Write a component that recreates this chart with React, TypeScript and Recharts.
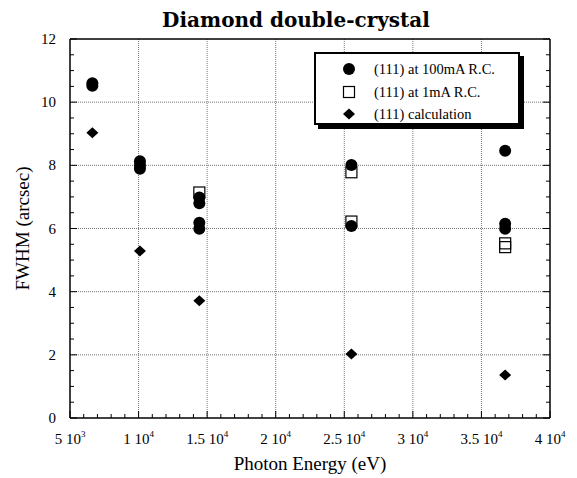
import React from 'react';
import { ScatterChart, Scatter, XAxis, YAxis, ReferenceLine, Legend } from 'recharts';

// ---- data (photon energy in eV, FWHM in arcsec) ----
const circleEnergy = [6630, 6630, 10100, 10100, 10100, 14430, 14430, 14430, 14430, 25520, 25520, 36730, 36730, 36730];
const circleFwhm = [10.6, 10.52, 8.13, 8.0, 7.89, 6.98, 6.8, 6.18, 5.99, 8.01, 6.08, 8.46, 6.15, 5.99];

const squareEnergy = [14430, 25520, 25520, 36730, 36730];
const squareFwhm = [7.14, 7.78, 6.22, 5.53, 5.41];

const diamondEnergy = [6630, 10100, 14430, 25520, 36730];
const diamondFwhm = [9.03, 5.29, 3.71, 2.03, 1.36];

const seriesNames = ['(111) at 100mA R.C.', '(111) at 1mA R.C.', '(111) calculation'];

// ---- axes ----
const xDomain = [5000, 40000];
const yDomain = [0, 12];
const xMajorTicks = [5000, 10000, 15000, 20000, 25000, 30000, 35000, 40000];
const yMajorTicks = [0, 2, 4, 6, 8, 10, 12];
const xMinorStep = 1000;
const yMinorStep = 0.5;

const xAllTicks: number[] = [];
for (let v = xDomain[0]; v <= xDomain[1]; v += xMinorStep) xAllTicks.push(v);
const yAllTicks: number[] = [];
for (let v = yDomain[0]; v <= yDomain[1] + 1e-9; v += yMinorStep) yAllTicks.push(Math.round(v * 10) / 10);

const xGrid = xMajorTicks.slice(1, -1);
const yGrid = yMajorTicks.slice(1, -1);

const circleData = circleEnergy.map((x, i) => ({ x, y: circleFwhm[i] }));
const squareData = squareEnergy.map((x, i) => ({ x, y: squareFwhm[i] }));
const diamondData = diamondEnergy.map((x, i) => ({ x, y: diamondFwhm[i] }));

const SERIF = '"Liberation Serif", "Times New Roman", serif';
const TITLE_FONT = '"DejaVu Serif", serif';

const isXMajor = (v: number) => xMajorTicks.includes(v);
const isYMajor = (v: number) => yMajorTicks.includes(v);

// ---- shapes ----
const CircleShape = (p: any) => <circle cx={p.cx} cy={p.cy} r={6} fill="#000" />;
const SquareShape = (p: any) => (
  <rect x={p.cx - 5.5} y={p.cy - 5.5} width={11} height={11} fill="none" stroke="#000" strokeWidth={1.2} />
);
const DiamondShape = (p: any) => (
  <polygon
    points={`${p.cx},${p.cy - 5.5} ${p.cx + 6},${p.cy} ${p.cx},${p.cy + 5.5} ${p.cx - 6},${p.cy}`}
    fill="#000"
  />
);

// ---- ticks ----
const BottomTick = (props: any) => {
  const { x, y, payload } = props;
  const v = payload.value;
  const major = isXMajor(v);
  const len = major ? 7 : 4;
  const exp = Math.floor(Math.log10(v) + 1e-9);
  const mant = Math.round((v / Math.pow(10, exp)) * 100) / 100;
  return (
    <g>
      <line x1={x} x2={x} y1={y} y2={y - len} stroke="#000" strokeWidth={1} />
      {major && (
        <text x={x} y={y + 26} textAnchor="middle" fontFamily={SERIF} fontSize={15} fill="#000">
          {`${mant} 10`}
          <tspan dy={-7} fontSize={9}>{exp}</tspan>
        </text>
      )}
    </g>
  );
};

const TopTick = (props: any) => {
  const { x, y, payload } = props;
  const len = isXMajor(payload.value) ? 7 : 4;
  return <line x1={x} x2={x} y1={y} y2={y + len} stroke="#000" strokeWidth={1} />;
};

const LeftTick = (props: any) => {
  const { x, y, payload } = props;
  const v = payload.value;
  const major = isYMajor(v);
  const len = major ? 7 : 4;
  return (
    <g>
      <line x1={x} x2={x + len} y1={y} y2={y} stroke="#000" strokeWidth={1} />
      {major && (
        <text x={x - 14} y={y + 5} textAnchor="end" fontFamily={SERIF} fontSize={15} fill="#000">
          {v}
        </text>
      )}
    </g>
  );
};

const RightTick = (props: any) => {
  const { x, y, payload } = props;
  const len = isYMajor(payload.value) ? 7 : 4;
  return <line x1={x} x2={x - len} y1={y} y2={y} stroke="#000" strokeWidth={1} />;
};

// ---- legend ----
const LegendSymbol = ({ kind }: { kind: number }) => (
  <svg width={14} height={14} style={{ display: 'block' }}>
    {kind === 0 && <circle cx={7} cy={7} r={6} fill="#000" />}
    {kind === 1 && <rect x={1.5} y={1.5} width={11} height={11} fill="none" stroke="#000" strokeWidth={1.2} />}
    {kind === 2 && <polygon points="7,1.5 13,7 7,12.5 1,7" fill="#000" />}
  </svg>
);

const LegendBox = (props: any) => {
  const payload: any[] = props.payload || [];
  const names = seriesNames.filter((n) => payload.length === 0 || payload.some((p) => p.value === n));
  return (
    <div
      style={{
        position: 'relative',
        width: 206,
        height: 73,
        boxSizing: 'border-box',
        border: '2px solid #000',
        background: '#fff',
        boxShadow: '4px 4px 0 #000',
      }}
    >
      {names.map((name) => {
        const kind = seriesNames.indexOf(name);
        return (
          <div
            key={name}
            style={{
              position: 'absolute',
              left: 0,
              top: 4 + kind * 22.5,
              height: 22,
              display: 'flex',
              alignItems: 'center',
            }}
          >
            <div style={{ position: 'absolute', left: 26 }}>
              <LegendSymbol kind={kind} />
            </div>
            <span
              style={{
                position: 'absolute',
                left: 58,
                whiteSpace: 'nowrap',
                fontFamily: SERIF,
                fontSize: 14.5,
                color: '#000',
                lineHeight: '22px',
                top: 0,
              }}
            >
              {name}
            </span>
          </div>
        );
      })}
    </div>
  );
};

export default function App() {
  return (
    <div style={{ position: 'absolute', left: 0, top: 0, width: 577, height: 478, background: '#fff' }}>
      <ScatterChart width={577} height={478} margin={{ top: 9, right: 0, bottom: 0, left: 0 }}>
        <XAxis
          xAxisId="b"
          type="number"
          dataKey="x"
          domain={xDomain}
          ticks={xAllTicks}
          interval={0}
          tickSize={0}
          tickMargin={0}
          tickLine={false}
          tick={(p: any) => <BottomTick {...p} />}
          axisLine={{ stroke: '#000', strokeWidth: 1.5 }}
          height={60}
          allowDataOverflow
          label={{
            value: 'Photon Energy (eV)',
            position: 'insideBottom',
            offset: 8,
            style: { fontFamily: SERIF, fontSize: 19, fill: '#000' },
          }}
        />
        <XAxis
          xAxisId="t"
          orientation="top"
          type="number"
          domain={xDomain}
          ticks={xAllTicks}
          interval={0}
          tickSize={0}
          tickMargin={0}
          tickLine={false}
          tick={(p: any) => <TopTick {...p} />}
          axisLine={{ stroke: '#000', strokeWidth: 1.5 }}
          height={30}
          allowDataOverflow
          label={{
            value: 'Diamond double-crystal',
            position: 'center',
            dx: -14,
            dy: -4,
            style: { fontFamily: TITLE_FONT, fontWeight: 'bold', fontSize: 20, fill: '#000' },
          }}
        />
        <YAxis
          yAxisId="l"
          type="number"
          dataKey="y"
          domain={yDomain}
          ticks={yAllTicks}
          interval={0}
          tickSize={0}
          tickMargin={0}
          tickLine={false}
          tick={(p: any) => <LeftTick {...p} />}
          axisLine={{ stroke: '#000', strokeWidth: 1.5 }}
          width={70}
          allowDataOverflow
          label={{
            value: 'FWHM (arcsec)',
            angle: -90,
            position: 'center',
            dx: -13,
            style: { fontFamily: SERIF, fontSize: 19, fill: '#000' },
          }}
        />
        <YAxis
          yAxisId="r"
          orientation="right"
          type="number"
          domain={yDomain}
          ticks={yAllTicks}
          interval={0}
          tickSize={0}
          tickMargin={0}
          tickLine={false}
          tick={(p: any) => <RightTick {...p} />}
          axisLine={{ stroke: '#000', strokeWidth: 1.5 }}
          width={27}
          allowDataOverflow
        />
        {xGrid.map((v) => (
          <ReferenceLine key={'gx' + v} xAxisId="b" yAxisId="l" x={v} stroke="#777" strokeDasharray="1 1" />
        ))}
        {yGrid.map((v) => (
          <ReferenceLine key={'gy' + v} xAxisId="b" yAxisId="l" y={v} stroke="#777" strokeDasharray="1 1" />
        ))}
        <Legend
          layout="horizontal"
          verticalAlign="middle"
          align="center"
          content={(p: any) => <LegendBox {...p} />}
          wrapperStyle={{ left: 314, top: 52, width: 212, height: 78 }}
        />
        <Scatter
          name={seriesNames[0]}
          data={circleData}
          xAxisId="b"
          yAxisId="l"
          fill="#000"
          shape={CircleShape}
          isAnimationActive={false}
        />
        <Scatter
          name={seriesNames[1]}
          data={squareData}
          xAxisId="b"
          yAxisId="l"
          fill="#000"
          shape={SquareShape}
          isAnimationActive={false}
        />
        <Scatter
          name={seriesNames[2]}
          data={diamondData}
          xAxisId="b"
          yAxisId="l"
          fill="#000"
          shape={DiamondShape}
          isAnimationActive={false}
        />
      </ScatterChart>
    </div>
  );
}
